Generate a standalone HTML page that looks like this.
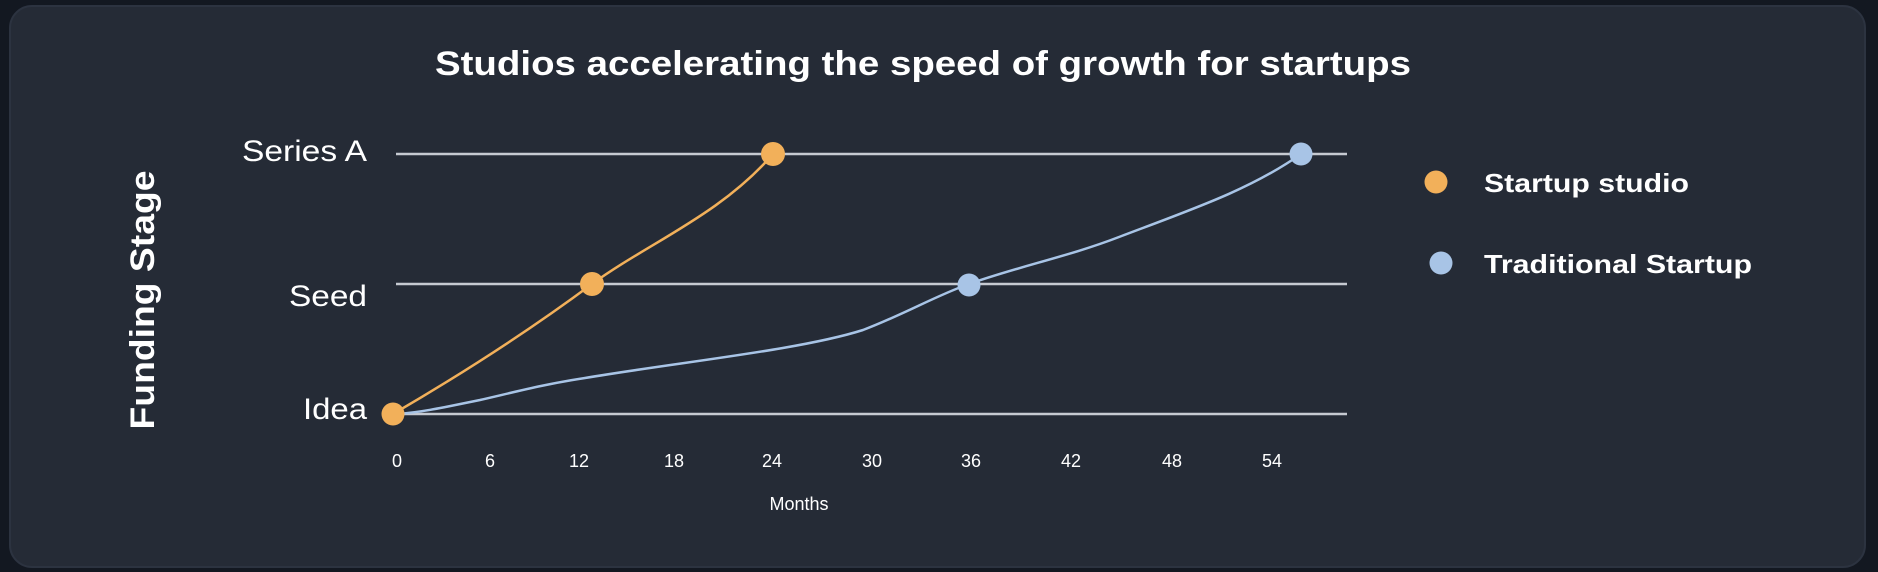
<!DOCTYPE html>
<html><head><style>
html,body{margin:0;padding:0;background:#131821;}
svg{display:block;}
text{font-family:"Liberation Sans",sans-serif;fill:#fff;}
</style></head><body>
<svg width="1878" height="572" viewBox="0 0 1878 572">
<rect x="0" y="0" width="1878" height="572" fill="#131821"/>
<rect x="10" y="6" width="1855" height="561" rx="22" fill="#252b36" stroke="#2c3340" stroke-width="2"/>
<text x="923" y="75" font-size="34" font-weight="bold" text-anchor="middle" textLength="976" lengthAdjust="spacingAndGlyphs">Studios accelerating the speed of growth for startups</text>
<text transform="translate(154,300) rotate(-90)" font-size="34" font-weight="bold" text-anchor="middle" textLength="259" lengthAdjust="spacingAndGlyphs">Funding Stage</text>
<g stroke="#c6cad1" stroke-width="2.5">
<line x1="396" y1="154" x2="1347" y2="154"/>
<line x1="396" y1="284" x2="1347" y2="284"/>
<line x1="396" y1="414" x2="1347" y2="414"/>
</g>
<g font-size="30" text-anchor="end" font-weight="300">
<text x="367" y="161" textLength="125" lengthAdjust="spacingAndGlyphs">Series A</text>
<text x="367" y="306" textLength="78" lengthAdjust="spacingAndGlyphs">Seed</text>
<text x="367" y="419" textLength="64" lengthAdjust="spacingAndGlyphs">Idea</text>
</g>
<g font-size="18" text-anchor="middle">
<text x="397" y="467">0</text><text x="490" y="467">6</text><text x="579" y="467">12</text>
<text x="674" y="467">18</text><text x="772" y="467">24</text><text x="872" y="467">30</text>
<text x="971" y="467">36</text><text x="1071" y="467">42</text><text x="1172" y="467">48</text>
<text x="1272" y="467">54</text>
<text x="799" y="510">Months</text>
</g>
<path d="M393,414 C460,375 530,330 592,284 C650,242 720,215 773,154" fill="none" stroke="#f2b05a" stroke-width="2.5"/>
<path d="M397,414 C425,412 450,406 480,400 C515,392 545,384 585,378 C680,362 800,350 863,330 C905,314 935,296 969,284 C1020,266 1070,256 1119,237 C1190,210 1250,190 1301,154" fill="none" stroke="#a8c4e6" stroke-width="2.5"/>
<g fill="#f2b05a"><circle cx="393" cy="414" r="11.5"/><circle cx="592" cy="284" r="12"/><circle cx="773" cy="154" r="12"/><circle cx="1436" cy="182" r="11.5"/></g>
<g fill="#a8c4e6"><circle cx="969" cy="285" r="11.5"/><circle cx="1301" cy="154" r="11.5"/><circle cx="1441" cy="263" r="11.5"/></g>
<g font-size="26" font-weight="bold">
<text x="1484" y="192" textLength="205" lengthAdjust="spacingAndGlyphs">Startup studio</text>
<text x="1484" y="273" textLength="268" lengthAdjust="spacingAndGlyphs">Traditional Startup</text>
</g>
</svg>
</body></html>
